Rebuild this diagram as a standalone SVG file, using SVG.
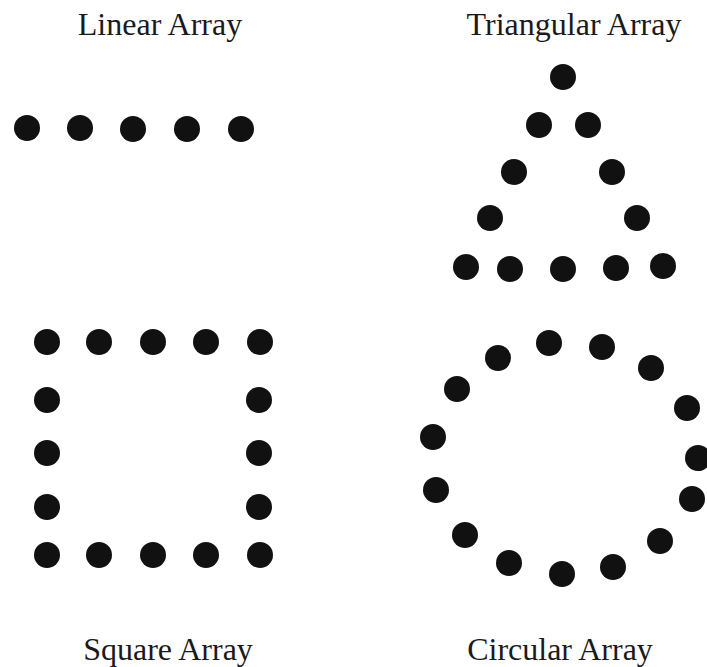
<svg xmlns="http://www.w3.org/2000/svg" width="707" height="667" viewBox="0 0 707 667">
<style>
.t{font-family:"Liberation Serif","Times New Roman",serif;font-size:32px;fill:#1a1a1a;text-anchor:middle}
.d{fill:#111}
</style>
<rect width="707" height="667" fill="#ffffff"/>
<g id="linear">
<text class="t" x="160" y="35">Linear Array</text>
<circle class="d" cx="27" cy="128" r="13"/>
<circle class="d" cx="80" cy="128" r="13"/>
<circle class="d" cx="133" cy="129" r="13"/>
<circle class="d" cx="187" cy="129" r="13"/>
<circle class="d" cx="241" cy="129" r="13"/>
</g>
<g id="triangular">
<text class="t" x="574" y="35">Triangular Array</text>
<circle class="d" cx="563" cy="77" r="13"/>
<circle class="d" cx="539" cy="125" r="13"/>
<circle class="d" cx="588" cy="125" r="13"/>
<circle class="d" cx="514" cy="172" r="13"/>
<circle class="d" cx="612" cy="172" r="13"/>
<circle class="d" cx="490" cy="218" r="13"/>
<circle class="d" cx="637" cy="218" r="13"/>
<circle class="d" cx="466" cy="267" r="13"/>
<circle class="d" cx="510" cy="269" r="13"/>
<circle class="d" cx="563" cy="269" r="13"/>
<circle class="d" cx="616" cy="268" r="13"/>
<circle class="d" cx="663" cy="266" r="13"/>
</g>
<g id="square">
<circle class="d" cx="47" cy="342" r="13"/>
<circle class="d" cx="99" cy="342" r="13"/>
<circle class="d" cx="153" cy="342" r="13"/>
<circle class="d" cx="206" cy="342" r="13"/>
<circle class="d" cx="260" cy="342" r="13"/>
<circle class="d" cx="47" cy="400" r="13"/>
<circle class="d" cx="259" cy="400" r="13"/>
<circle class="d" cx="47" cy="453" r="13"/>
<circle class="d" cx="259" cy="453" r="13"/>
<circle class="d" cx="47" cy="507" r="13"/>
<circle class="d" cx="259" cy="507" r="13"/>
<circle class="d" cx="47" cy="555" r="13"/>
<circle class="d" cx="99" cy="555" r="13"/>
<circle class="d" cx="153" cy="555" r="13"/>
<circle class="d" cx="206" cy="555" r="13"/>
<circle class="d" cx="260" cy="555" r="13"/>
<text class="t" x="168" y="660">Square Array</text>
</g>
<g id="circular">
<circle class="d" cx="549" cy="343" r="13"/>
<circle class="d" cx="602" cy="347" r="13"/>
<circle class="d" cx="651" cy="368" r="13"/>
<circle class="d" cx="687" cy="408" r="13"/>
<circle class="d" cx="698" cy="458" r="13"/>
<circle class="d" cx="692" cy="499" r="13"/>
<circle class="d" cx="660" cy="541" r="13"/>
<circle class="d" cx="613" cy="567" r="13"/>
<circle class="d" cx="562" cy="574" r="13"/>
<circle class="d" cx="509" cy="563" r="13"/>
<circle class="d" cx="465" cy="535" r="13"/>
<circle class="d" cx="436" cy="490" r="13"/>
<circle class="d" cx="433" cy="437" r="13"/>
<circle class="d" cx="457" cy="389" r="13"/>
<circle class="d" cx="498" cy="358" r="13"/>
<text class="t" x="560" y="660">Circular Array</text>
</g>
<g id="connectors"/>
</svg>
